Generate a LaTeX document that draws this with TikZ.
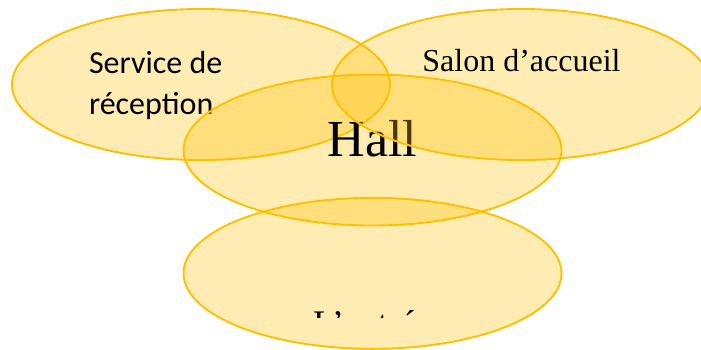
\documentclass[tikz,border=0pt]{standalone}
\usepackage{fontspec}
\setmainfont{Liberation Serif}
\newfontfamily\calibri{Carlito}
\usetikzlibrary{shapes.geometric}
\definecolor{gold}{HTML}{FFC000}
\tikzset{
  venn/.style={ellipse, draw=gold, line width=1.9pt, fill=gold, fill opacity=0.3,
    draw opacity=1, minimum width=378pt, minimum height=151pt, inner sep=0pt},
  lbl/.style={inner sep=0pt, outer sep=0pt, text=black, text opacity=1}
}
\begin{document}
\begin{tikzpicture}[x=1pt,y=-1pt]
\useasboundingbox (0,0) rectangle (701,349);
\begin{scope}
\clip (0,0) rectangle (701,349);
\node[venn] (serv) at (201,84.5) {};
\node[lbl, anchor=base west] (serv1) at (89,73.3) {\calibri\fontsize{32}{39}\selectfont Service de};
\node[lbl, anchor=base west] (serv2) at (89,114) {\calibri\fontsize{32}{39}\selectfont réception};
\node[venn] (hall) at (372.5,150) {};
\node[lbl, anchor=base] (hallt) at (372.5,156) {\fontsize{52}{60}\selectfont Hall};
\node[venn] (salon) at (521,84.5) {};
\node[lbl, anchor=base] (salont) at (521.5,71) {\fontsize{32}{38}\selectfont Salon d’accueil};
\node[venn] (entree) at (372.5,273.3) {};
\begin{scope}
\clip (0,0) rectangle (701,317.5);
\node[lbl, anchor=base] (entreet) at (372.5,335) {\fontsize{36}{42}\selectfont L’entrée};
\end{scope}
\end{scope}
\end{tikzpicture}
\end{document}
